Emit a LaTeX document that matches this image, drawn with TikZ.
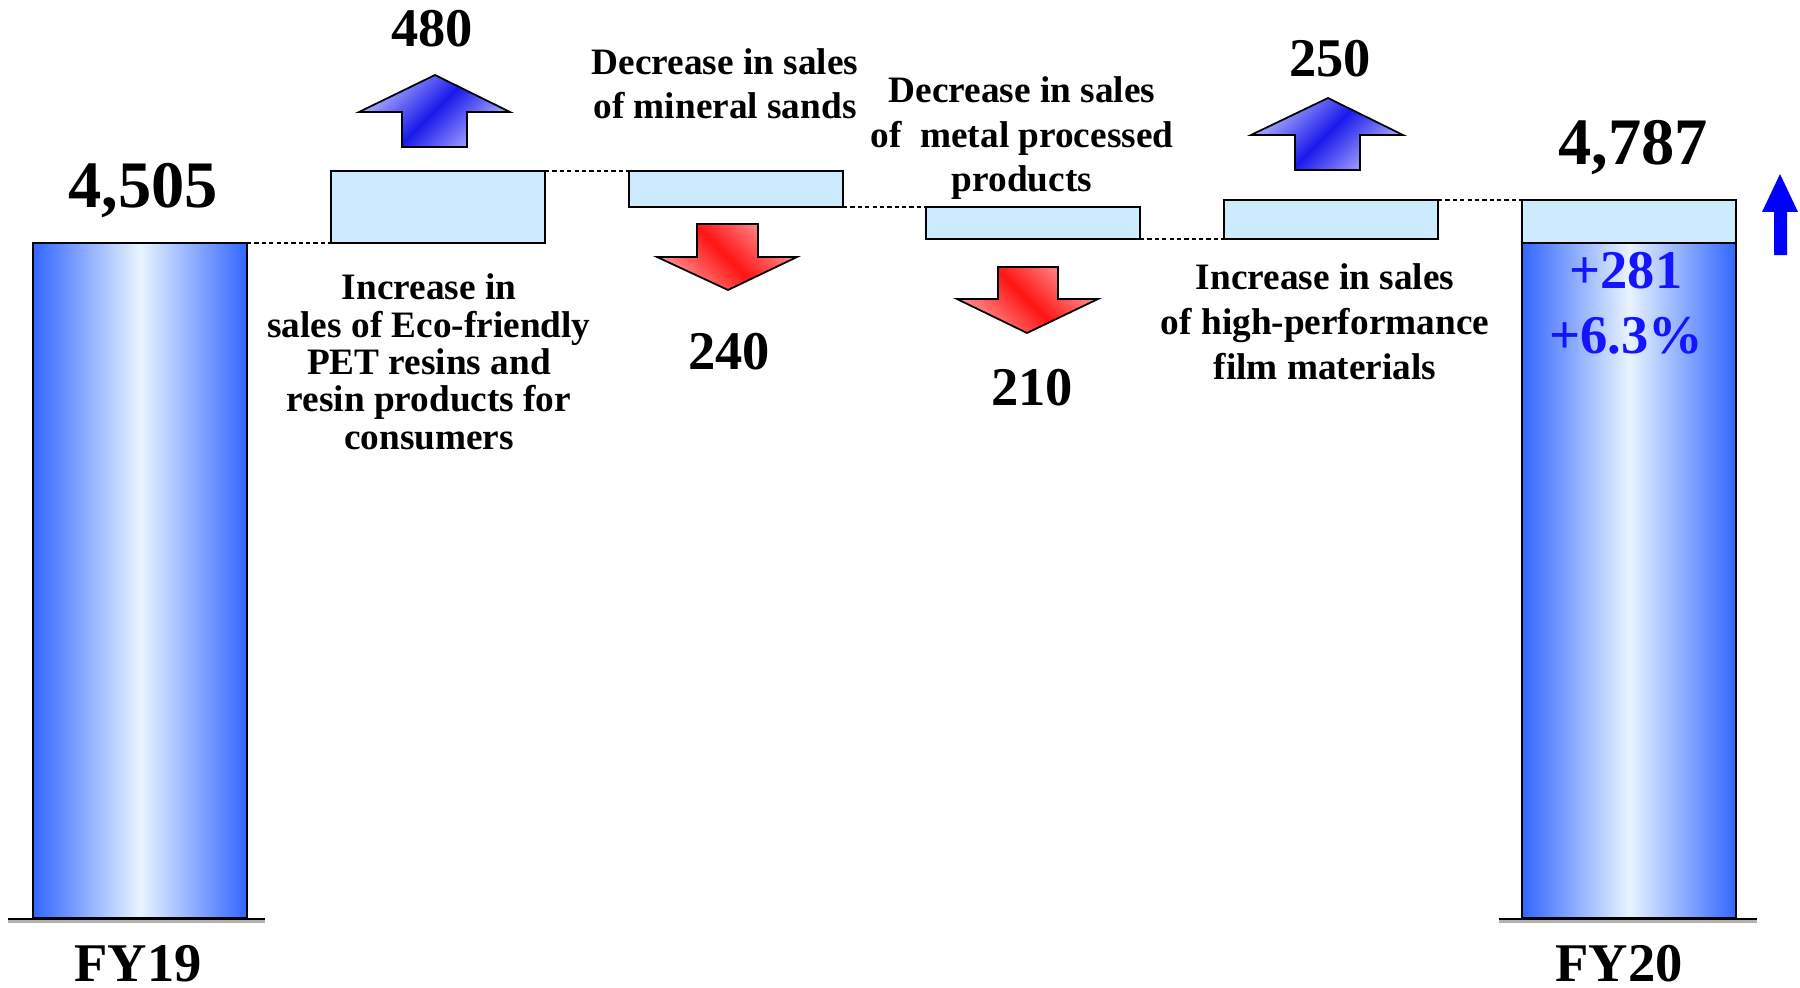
\documentclass[tikz,border=0pt]{standalone}
\usepackage{fontspec}
\setmainfont{Liberation Serif}
\usetikzlibrary{fit}
\definecolor{colblue}{RGB}{51,102,255}
\definecolor{colmid}{RGB}{232,244,255}
\definecolor{boxfill}{RGB}{204,235,255}
\definecolor{arrlight}{RGB}{180,180,255}
\definecolor{arrdark}{RGB}{25,25,235}
\definecolor{redlight}{RGB}{255,150,150}
\definecolor{reddark}{RGB}{255,20,20}
\definecolor{txtblue}{RGB}{20,20,255}
\begin{document}
\begin{tikzpicture}[x=0.01cm,y=-0.01cm,
  column/.style={draw=black, line width=0.5pt, left color=colblue, right color=colblue, middle color=colmid, inner sep=0pt, outer sep=0pt},
  stepbox/.style={draw=black, line width=0.6pt, fill=boxfill, inner sep=0pt, outer sep=0pt},
  link/.style={black, line width=0.35pt, dash pattern=on 1.2pt off 0.9pt},
  bignum/.style={font=\fontsize{18.9pt}{20pt}\selectfont\bfseries, inner sep=0pt, anchor=base},
  num/.style={font=\fontsize{15.5pt}{17pt}\selectfont\bfseries, inner sep=0pt, anchor=base},
  lbl/.style={font=\fontsize{10.6pt}{12.66pt}\selectfont\bfseries, inner sep=0pt, anchor=base, align=center},
  uparr/.style={draw=black, line width=0.5pt, left color=arrlight, right color=arrlight, middle color=arrdark, shading angle=45},
  downarr/.style={draw=black, line width=0.5pt, left color=redlight, right color=redlight, middle color=reddark, shading angle=-45},
  floor/.style={line width=0.8pt, black}
]
\useasboundingbox (0,0) rectangle (1800,988);

% columns
\node[column, fit={(33,243) (247,918)}] (c19) {};
\node[column, fit={(1522,243) (1736,918)}] (c20) {};
\node[stepbox, fit={(1522,200) (1736,243)}] (top20) {};

% floor lines
\draw[gray!60, line width=0.8pt] (8,921.5) -- (265,921.5);
\draw[floor] (8,919) -- (265,919);
\draw[gray!60, line width=0.8pt] (1499,921.5) -- (1757,921.5);
\draw[floor] (1499,919) -- (1757,919);

% step boxes
\node[stepbox, fit={(331,171) (545,243)}] (b1) {};
\node[stepbox, fit={(629,171) (843,207)}] (b2) {};
\node[stepbox, fit={(926,207) (1140,239)}] (b3) {};
\node[stepbox, fit={(1224,200) (1438,239)}] (b4) {};

% dashed links
\draw[link] (c19.north east) -- (b1.south west);
\draw[link] (b1.north east) -- (b2.north west);
\draw[link] (b2.south east) -- (b3.north west);
\draw[link] (b3.south east) -- (b4.south west);
\draw[link] (b4.north east) -- (top20.north west);

% arrows
\path[uparr] (435,75) -- (510,112) -- (467,112) -- (467,147) -- (402,147) -- (402,112) -- (359,112) -- cycle;
\path[uparr] (1328,98) -- (1403,135) -- (1360,135) -- (1360,170) -- (1295,170) -- (1295,135) -- (1251,135) -- cycle;
\path[downarr] (697,224) -- (758,224) -- (758,257) -- (797,257) -- (728,290) -- (657,257) -- (697,257) -- cycle;
\path[downarr] (998,267) -- (1058,267) -- (1058,299) -- (1098,299) -- (1027,333) -- (957,299) -- (998,299) -- cycle;
\fill[blue] (1780,174) -- (1798,212) -- (1787,212) -- (1787,255) -- (1774,255) -- (1774,212) -- (1762,212) -- cycle;

% texts
\node[num] (n480) at (432,47) {480};
\node[bignum] (v19) at (143,208) {4,505};
\node[lbl, font=\fontsize{10.6pt}{10.6pt}\selectfont\bfseries] (l1) at (429,449) {Increase in\\sales of Eco-friendly\\PET resins and\\resin products for\\consumers};
\node[lbl] (l2) at (725,119) {Decrease in sales\\of mineral sands};
\node[num] (n240) at (729,369) {240};
\node[lbl] (l3) at (1022,192) {Decrease in sales\\of\ \ metal processed\\products};
\node[num] (n210) at (1032,405) {210};
\node[num] (n250) at (1330,77) {250};
\node[lbl] (l4) at (1325,379) {Increase in sales\\of high-performance\\film materials};
\node[bignum] (v20) at (1633,165) {4,787};
\node[num, text=txtblue] (d1) at (1626,288) {+281};
\node[num, text=txtblue] (d2) at (1626,353) {+6.3\%};
\node[num] (fy19) at (138,981) {FY19};
\node[num] (fy20) at (1619,981) {FY20};
\end{tikzpicture}
\end{document}
